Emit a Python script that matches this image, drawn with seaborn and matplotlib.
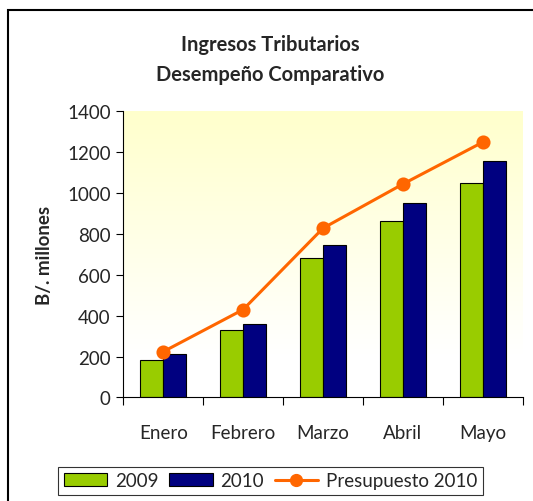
import numpy as np
import pandas as pd
import matplotlib.pyplot as plt
import seaborn as sns
from matplotlib.patches import Patch, Rectangle
from matplotlib.lines import Line2D

meses = ["Enero", "Febrero", "Marzo", "Abril", "Mayo"]
ingresos_2009 = [185, 332, 683, 865, 1050]
ingresos_2010 = [213, 360, 745, 950, 1158]
presupuesto_2010 = [224, 430, 828, 1044, 1249]

verde = "#99CC00"
azul = "#000080"
naranja = "#FF6600"

df = pd.DataFrame({
    "Mes": meses * 2,
    "Año": ["2009"] * 5 + ["2010"] * 5,
    "Valor": ingresos_2009 + ingresos_2010,
})
pres = pd.DataFrame({"Mes": meses, "Valor": presupuesto_2010})

sns.set_theme(style="white")
plt.rcParams["font.family"] = ["Lato", "DejaVu Sans"]

fig = plt.figure(figsize=(5.33, 5.02), dpi=100)
ax = fig.add_axes([0.2313, 0.2062, 0.7494, 0.5701])

# yellow-to-white gradient background
grad = np.linspace(0, 1, 256).reshape(-1, 1)
grad = np.clip((grad - 0.15) / 0.85, 0, 1)
bg = np.ones((256, 1, 3))
bg[:, 0, 2] = 1 - 0.2 * grad[:, 0]
ax.imshow(bg, extent=(-0.5, 4.5, 0, 1400), origin="lower", aspect="auto", zorder=0)

sns.barplot(data=df, x="Mes", y="Valor", hue="Año", order=meses,
            palette=[verde, azul], width=0.575, edgecolor="black",
            linewidth=0.8, saturation=1, ax=ax, legend=False, zorder=2)
sns.pointplot(data=pres, x="Mes", y="Valor", order=meses, color=naranja,
              markers="o", markersize=8.5, linewidth=2.2, ax=ax, zorder=3)

ax.set_xlim(-0.5, 4.5)
ax.set_ylim(0, 1400)
ax.set_yticks(range(0, 1401, 200))
ax.set_xticks(np.arange(-0.5, 4.6, 1))
ax.set_xticklabels([])
ax.set_xticks(range(5), minor=True)
ax.set_xticklabels(meses, minor=True, fontsize=13.5)
ax.tick_params(axis="x", which="major", direction="out", length=6, width=0.8, color="black", bottom=True)
ax.tick_params(axis="x", which="minor", length=0, pad=19)
ax.tick_params(axis="y", direction="out", length=5, width=0.8, color="black", left=True, labelsize=13.5, pad=4)

for s in ["top", "right"]:
    ax.spines[s].set_visible(False)
for s in ["left", "bottom"]:
    ax.spines[s].set_color("black")
    ax.spines[s].set_linewidth(0.8)

ax.set_xlabel("")
ax.set_ylabel("B/. millones", fontsize=13.5, fontweight="bold", labelpad=10)

fig.text(0.5075, 0.91, "Ingresos Tributarios", ha="center", va="center",
         fontsize=14.5, fontweight="bold")
fig.text(0.5075, 0.85, "Desempeño Comparativo", ha="center", va="center",
         fontsize=14.5, fontweight="bold")

handles = [
    Patch(facecolor=verde, edgecolor="black", linewidth=0.8, label="2009"),
    Patch(facecolor=azul, edgecolor="black", linewidth=0.8, label="2010"),
    Line2D([], [], color=naranja, marker="o", markersize=8.5, linewidth=2.2, label="Presupuesto 2010"),
]
leg = fig.legend(handles=handles, ncol=3, loc="center", bbox_to_anchor=(0.5075, 0.04),
                 frameon=True, fancybox=False, fontsize=13.5, handlelength=2.3,
                 handletextpad=0.4, columnspacing=0.6, borderpad=0.3)
leg.get_frame().set_edgecolor("black")
leg.get_frame().set_linewidth(0.8)

fig.patches.append(Rectangle((8 / 533, -0.1), 1.2, 1 - 11 / 502 + 0.1,
                             transform=fig.transFigure, fill=False,
                             edgecolor="black", linewidth=1.5))

fig.savefig("out.png", dpi=100)
